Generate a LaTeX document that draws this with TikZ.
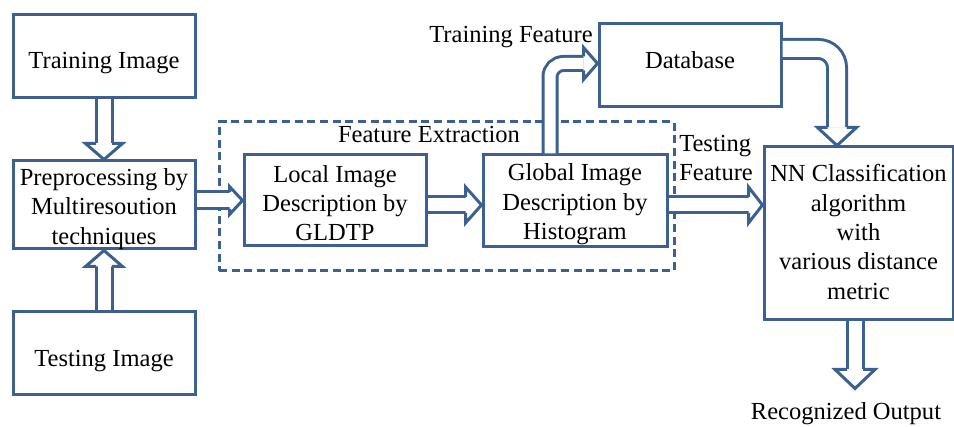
\documentclass[tikz,border=0pt]{standalone}
\usepackage{fontspec}
\setmainfont{Liberation Serif}
\usetikzlibrary{calc}
\definecolor{bc}{HTML}{3C6190}
\newcommand{\fs}{\fontsize{18.4}{22}\selectfont}
% shifted centred text block: #1 vertical shift, #2 lines
\newcommand{\dn}[2]{\raisebox{#1}[\height][\depth]{\begin{tabular}{@{}c@{}}#2\end{tabular}}}
\tikzset{
  box/.style={draw=bc, line width=2.25pt, inner sep=0pt, align=center, font=\fs, fill=white},
  febox/.style={draw=bc, line width=2.25pt, dash pattern=on 6pt off 3.5pt, inner sep=0pt},
  lab/.style={inner sep=0pt, font=\fs, align=center},
  shaft/.style={draw=bc, line width=2.25pt, double=white, double distance=#1},
  headline/.style={draw=bc, line width=2.25pt, line join=miter},
}
% #1 tip, #2 angle, #3 half head width, #4 head length, #5 shaft half separation (all px)
\newcommand{\hhead}[5]{%
  \begin{scope}[shift={(#1)}, rotate=#2]
    \fill[white] (0,0) -- (-#4,#3) -- (-#4,-#3) -- cycle;
    \draw[headline] (-#4,#5) -- (-#4,#3) -- (0,0) -- (-#4,-#3) -- (-#4,-#5);
  \end{scope}}
\begin{document}
\begin{tikzpicture}[x=0.75pt,y=-0.75pt]
\useasboundingbox (0,0) rectangle (954,427);
% dashed group
\node[febox, minimum width=341.25pt, minimum height=111.75pt] (fe) at (446.5,196.5) {};
\node[lab] (felab) at (429,135) {Feature Extraction};
% boxes
\node[box, minimum width=136.5pt, minimum height=62.25pt] (train) at (104,56.5) {\dn{-4.5pt}{Training Image}};
\node[box, minimum width=136.5pt, minimum height=62.25pt] (pre) at (104,205) {\dn{-3pt}{Preprocessing by\\Multiresoution\\techniques}};
\node[box, minimum width=136.5pt, minimum height=62.25pt] (test) at (104,353.5) {\dn{-5pt}{Testing Image}};
\node[box, minimum width=136.5pt, minimum height=68.25pt] (local) at (335,200.5) {\dn{-3.75pt}{Local Image\\Description by\\GLDTP}};
\node[box, minimum width=138pt, minimum height=69pt] (global) at (575,201) {\dn{-2.6pt}{Global Image\\Description by\\Histogram}};
\node[box, minimum width=136.5pt, minimum height=62.25pt] (db) at (690,65.5) {\dn{2.25pt}{Database}};
\node[box, minimum width=141.75pt, minimum height=129.75pt] (nn) at (858.5,233.5) {\dn{-0.75pt}{NN Classification\\algorithm\\with\\various distance\\metric}};
% labels
\node[lab] (tflab) at (511,37) {Training Feature};
\node[lab, align=left, anchor=west] (tslab) at (679,158) {Testing\\Feature};
\node[lab] (out) at (846,414) {Recognized Output};
% helper coordinates
\coordinate (ya) at (0,205);
\coordinate (tfx) at (550,0);
\coordinate (tfy) at (0,63.5);
\coordinate (dbx) at (837,0);
\coordinate (dby) at (0,49);
\coordinate (outx) at (855,0);
% train -> pre
\draw[shaft=9.75pt] (train.south) -- ($(pre.north)+(0,-16)$);
\hhead{pre.north}{-90}{18.5}{16}{8}
% test -> pre
\draw[shaft=9.75pt] (test.north) -- ($(pre.south)+(0,16)$);
\hhead{pre.south}{90}{18.5}{16}{8}
% pre -> local
\draw[shaft=10.5pt] (pre.east |- local.west) -- ($(local.west)+(-13,0)$);
\hhead{local.west}{0}{14}{13}{8.5}
% local -> global
\draw[shaft=9.75pt] (local.east |- ya) -- ($(global.west |- ya)+(-16,0)$);
\hhead{global.west |- ya}{0}{18}{16}{8}
% global -> nn (testing feature)
\draw[shaft=9.75pt] (global.east |- ya) -- ($(nn.west |- ya)+(-14,0)$);
\hhead{nn.west |- ya}{0}{18}{14}{8}
% global -> db (training feature)
\draw[shaft=8.25pt, rounded corners=10pt] (tfx |- global.north) -- (tfx |- tfy) -- ($(db.west |- tfy)+(-14,0)$);
\hhead{db.west |- tfy}{0}{16}{14}{7}
% db -> nn
\draw[shaft=12pt, rounded corners=14pt] (db.east |- dby) -- (dbx |- dby) -- ($(dbx |- nn.north)+(0,-18)$);
\hhead{dbx |- nn.north}{-90}{19.5}{18}{9.5}
% nn -> output
\draw[shaft=9.75pt] (outx |- nn.south) -- ($(outx |- nn.south)+(0,48)$);
\hhead{$(outx |- nn.south)+(0,67)$}{-90}{20}{19}{8}
\end{tikzpicture}
\end{document}
